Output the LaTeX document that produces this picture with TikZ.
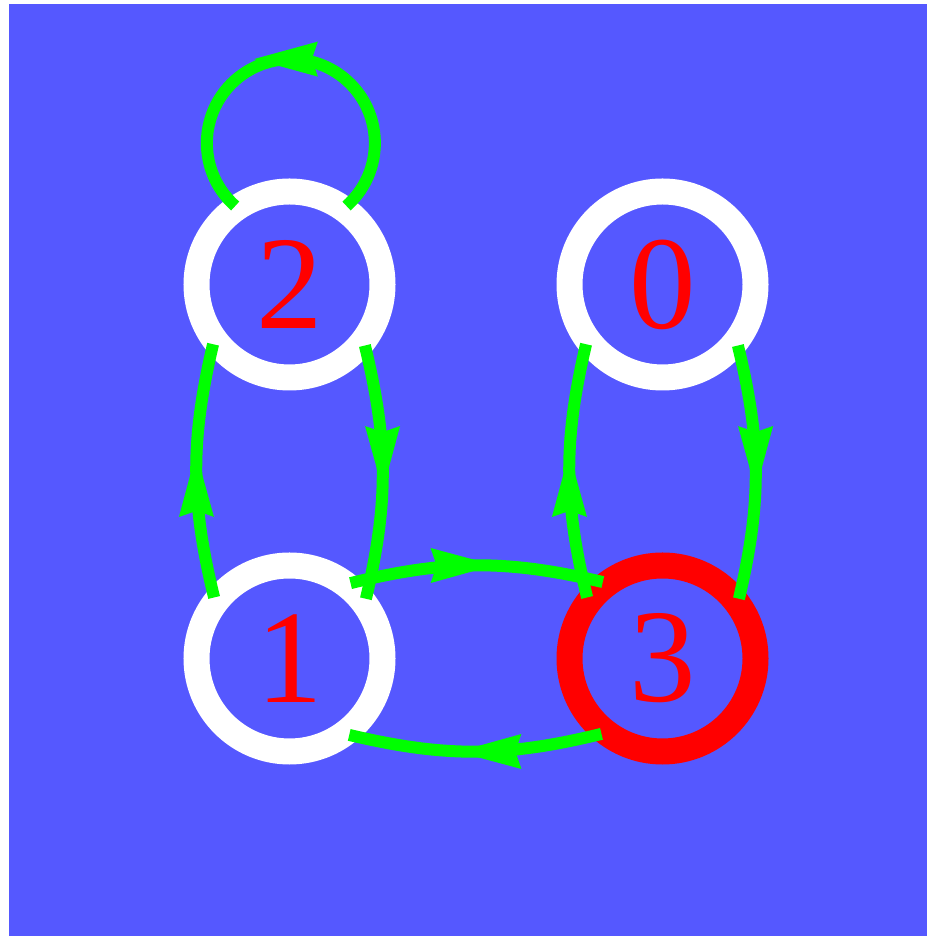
\documentclass[tikz,border=0pt]{standalone}
\usepackage{fontspec}
\setmainfont{Liberation Serif}
\usetikzlibrary{arrows.meta,decorations.markings}
\definecolor{bgblue}{RGB}{85,88,255}
\definecolor{egreen}{RGB}{0,255,0}
\definecolor{nred}{RGB}{255,0,0}
\tikzset{
  state/.style={circle, minimum size=186pt, inner sep=0pt, outer sep=4pt,
    line width=26pt, draw=white, text=nred,
    font=\fontsize{133}{133}\selectfont},
  accept/.style={draw=nred},
  arrowtip/.style={Stealth[length=64pt,width=35pt,inset=6pt,line width=0pt]},
  edge/.style={color=egreen, line width=12pt,
    decoration={markings, mark=at position 0.5 with {\arrow[xshift=18pt]{Stealth[length=64pt,width=35pt,inset=6pt,line width=0pt]}}},
    postaction={decorate}},
  loopedge/.style={color=egreen, line width=12pt,
    decoration={markings, mark=at position 0.5 with {\arrow[xshift=37pt]{Stealth[length=64pt,width=35pt,inset=6pt,line width=0pt]}}},
    postaction={decorate}},
}
\begin{document}
\begin{tikzpicture}[x=1pt,y=1pt]
\useasboundingbox (0,0) rectangle (927,936);
\fill[bgblue] (9,0) rectangle (927,932);
\node[state] (n2) at (289.5,651.5) {2};
\node[state] (n0) at (662.5,651.5) {0};
\node[state] (n1) at (289.5,277.5) {1};
\node[state,accept] (n3) at (662.5,277.5) {3};
% loop on 2
\draw[loopedge] (n2.54) arc[start angle=-48.5, end angle=228.5, radius=84];
% vertical edges
\draw[edge] (n1.141.5) to[bend left=13.5] (n2.218.5);
\draw[edge] (n2.321.5) to[bend left=13.5] (n1.38.5);
\draw[edge] (n3.141.5) to[bend left=13.5] (n0.218.5);
\draw[edge] (n0.321.5) to[bend left=13.5] (n3.38.5);
% horizontal edges
\draw[edge] (n1.51.5) to[bend left=13.5] (n3.128.5);
\draw[edge] (n3.231.5) to[bend left=13.5] (n1.308.5);
\end{tikzpicture}
\end{document}
